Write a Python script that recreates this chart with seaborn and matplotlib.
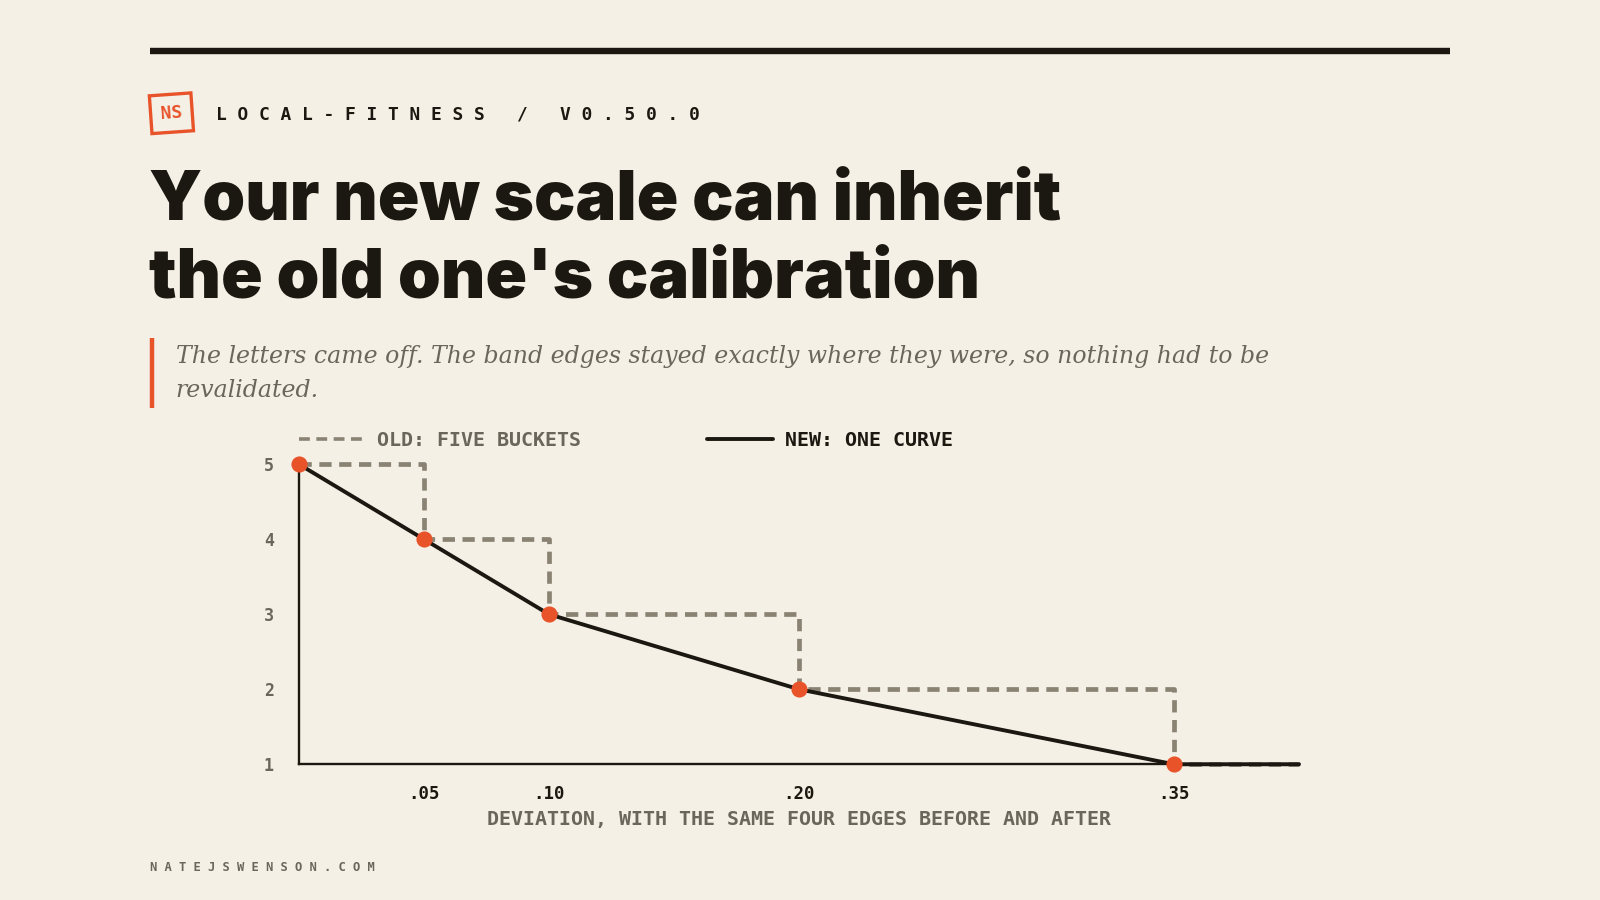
import matplotlib
matplotlib.use("Agg")
import matplotlib.pyplot as plt
import seaborn as sns
import pandas as pd
from matplotlib.lines import Line2D

# data: the four band edges (plus the origin) and the score at each edge
edges = [0.0, 0.05, 0.10, 0.20, 0.35]
scores = [5, 4, 3, 2, 1]
x_end = 0.40
tick_vals = [0.05, 0.10, 0.20, 0.35]
tick_labels = [".05", ".10", ".20", ".35"]
y_ticks = [1, 2, 3, 4, 5]

BG = "#f4f0e6"
INK = "#1b1811"
GRAY = "#6b665a"
DASH = "#8a8374"
ORANGE = "#e8532a"
MONO = "DejaVu Sans Mono"

sns.set_theme(style="white")
plt.rcParams["font.family"] = ["DejaVu Sans"]

# reference is laid out in 1568x882 pixels; map to figure fractions
W, H = 1568, 882
fx = lambda px: px / W
fy = lambda py: 1 - py / H

fig = plt.figure(figsize=(16, 9), dpi=100, facecolor=BG)
ax = fig.add_axes([fx(293), fy(749), fx(1273) - fx(293), fy(455) - fy(749)])
ax.set_facecolor(BG)

old = pd.DataFrame({"x": edges + [x_end], "y": scores + [scores[-1]]})
new = pd.DataFrame({"x": edges + [x_end], "y": scores + [scores[-1]]})
pts = pd.DataFrame({"x": edges, "y": scores})

sns.lineplot(data=old, x="x", y="y", ax=ax, color=DASH, lw=3.4,
             drawstyle="steps-post", clip_on=False, zorder=3)
ax.lines[-1].set_dashes([2.6, 1.6])
sns.lineplot(data=new, x="x", y="y", ax=ax, color=INK, lw=2.8,
             clip_on=False, zorder=4)
sns.scatterplot(data=pts, x="x", y="y", ax=ax, color=ORANGE, s=135,
                linewidth=0, clip_on=False, zorder=5)

ax.set_xlim(0, x_end)
ax.set_ylim(1, 5)
sns.despine(ax=ax)
for s in ["left", "bottom"]:
    ax.spines[s].set_color(INK)
    ax.spines[s].set_linewidth(1.7)
ax.set_xticks(tick_vals)
ax.set_xticklabels(tick_labels, fontfamily=MONO, fontweight="bold",
                   fontsize=12.5, color=INK)
ax.set_yticks(y_ticks)
ax.set_yticklabels([str(v) for v in y_ticks], fontfamily=MONO,
                   fontweight="bold", fontsize=12, color=GRAY)
ax.tick_params(axis="x", length=8, width=1.7, color=INK, pad=7, direction="out")
ax.tick_params(axis="y", length=0, pad=18)
ax.set_xlabel("DEVIATION, WITH THE SAME FOUR EDGES BEFORE AND AFTER",
              fontfamily=MONO, fontweight="bold", fontsize=14.4, color=GRAY,
              labelpad=5)
ax.set_ylabel("")

# legend
handles = [Line2D([], [], color=DASH, lw=2.6, dashes=[3.0, 1.8]),
           Line2D([], [], color=INK, lw=2.8)]
leg = ax.legend(handles, ["OLD: FIVE BUCKETS", "NEW: ONE CURVE"],
                loc="center left", bbox_to_anchor=(0, 1.08), ncol=2,
                frameon=False, borderpad=0, borderaxespad=0,
                handlelength=3.3, handletextpad=0.6, columnspacing=6.3,
                prop={"family": MONO, "weight": "bold", "size": 14.4})
leg.get_texts()[0].set_color(GRAY)
leg.get_texts()[1].set_color(INK)

# top rule
fig.add_artist(Line2D([fx(147), fx(1421)], [fy(50), fy(50)], color=INK,
                      lw=4.6, solid_capstyle="butt"))

# badge + kicker
fig.text(fx(168), fy(111), "NS", rotation=4, ha="center", va="center",
         fontfamily=MONO, fontweight="bold", fontsize=13, color=ORANGE,
         bbox=dict(boxstyle="square,pad=0.55", fc="none", ec=ORANGE, lw=2.4))
fig.text(fx(212), fy(112), "L O C A L - F I T N E S S   /   V 0 . 5 0 . 0",
         ha="left", va="center", fontfamily=MONO, fontweight="bold",
         fontsize=12.9, color=INK)

# title
title_kw = dict(ha="left", va="baseline", fontfamily="Inter",
                fontweight="black", fontsize=49.5, color=INK)
fig.text(fx(146), fy(215), "Your new scale can inherit", **title_kw)
fig.text(fx(146), fy(292), "the old one's calibration", **title_kw)

# deck
fig.add_artist(Line2D([fx(149), fx(149)], [fy(331), fy(400)], color=ORANGE,
                      lw=3.2, solid_capstyle="butt"))
fig.text(fx(172), fy(338),
         "The letters came off. The band edges stayed exactly where they were, so nothing had to be\nrevalidated.",
         ha="left", va="top", fontfamily="DejaVu Serif", style="italic",
         fontsize=17.0, color=GRAY, linespacing=1.62)

# footer
fig.text(fx(147), fy(850), "N A T E J S W E N S O N . C O M", ha="left",
         va="center", fontfamily=MONO, fontweight="bold", fontsize=8.7,
         color=GRAY)

fig.savefig("out.png", dpi=100, facecolor=BG)
